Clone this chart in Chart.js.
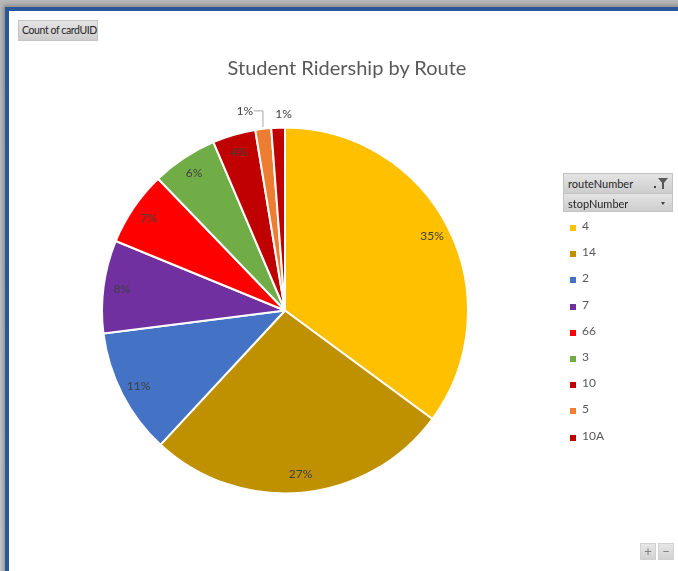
<!DOCTYPE html>
<html>
<head>
<meta charset="utf-8">
<script src="https://cdn.jsdelivr.net/npm/chart.js@4"></script>
<style>
  html, body { margin: 0; padding: 0; }
  body { width: 678px; height: 571px; position: relative; overflow: hidden;
         background: linear-gradient(to bottom, #b8b8b8, #c8c8c8); font-family: Lato, "Open Sans", sans-serif; }
  #frame { position: absolute; left: 5px; top: 7px; width: 690px; height: 580px;
           border-left: 4px solid #2b5797; border-top: 4px solid #2b5797; background: #fff;
           box-shadow: -2px -2px 4px rgba(0,0,0,0.25); }
  #myChart { position: absolute; left: 0; top: 0; }
  .btn { position: absolute; background: linear-gradient(#e4e4e4, #cdcdcd); border: 1px solid #c4c4c4;
         font-size: 11px; color: #262626; line-height: 19px; padding: 0 4px; box-sizing: border-box;
         white-space: nowrap; overflow: hidden; }
  #title { position: absolute; left: 0; width: 694px; top: 55px; text-align: center;
           font-size: 20px; color: #595959; }
  #legend { position: absolute; left: 566px; top: 218px; }
  .item { height: 26.2px; font-size: 12px; color: #595959; position: relative; }
  .item span.sw { position: absolute; left: 4px; top: 7px; width: 6px; height: 6px; }
  .item span.tx { position: absolute; left: 16px; top: 0; }
  .dd { position: absolute; right: 7px; top: 8px; width: 0; height: 0;
        border-left: 2px solid transparent; border-right: 2px solid transparent; border-top: 3px solid #404040; }
  .fil { position: absolute; right: 4px; top: 4px; width: 0; height: 0;
         border-left: 5px solid transparent; border-right: 5px solid transparent; border-top: 6px solid #595959; }
  .filstem { position: absolute; right: 8px; top: 9px; width: 2px; height: 6px; background: #595959; }
  .dot { position: absolute; right: 16px; top: 12px; width: 2px; height: 2px; background: #404040; }
  .pm { position: absolute; top: 543px; width: 16px; height: 17px; background: linear-gradient(#e6e6e6, #d2d2d2);
        border: 1px solid #d0d0d0; box-sizing: border-box; color: #7f7f7f; font-size: 13px; text-align: center; line-height: 14px; }
</style>
</head>
<body>
<div id="frame"></div>
<canvas id="myChart" width="678" height="571"></canvas>
<div class="btn" style="left:18px;top:20px;width:80px;height:21px;font-size:10.5px;letter-spacing:-0.4px;padding:0 3px;">Count of cardUID</div>
<div id="title">Student Ridership by Route</div>
<div class="btn" style="left:563px;top:173px;width:110px;height:21px;">routeNumber<span class="dot"></span><span class="fil"></span><span class="filstem"></span></div>
<div class="btn" style="left:563px;top:193px;width:110px;height:19px;">stopNumber<span class="dd"></span></div>
<div id="legend"></div>
<div class="pm" style="left:640px;">+</div>
<div class="pm" style="left:658px;">&minus;</div>
<script>
var rutas = ["4", "14", "2", "7", "66", "3", "10", "5", "10A"];
var conteos = [351, 268, 111, 82, 66, 58, 38, 14, 12];
var colores = ["#FFC000", "#BF9000", "#4472C4", "#7030A0", "#FF0000", "#70AD47", "#C00000", "#ED7D31", "#C00000"];

// legend as html
var leg = document.getElementById("legend");
for (var i = 0; i < rutas.length; i++) {
  var d = document.createElement("div");
  d.className = "item";
  d.innerHTML = '<span class="sw" style="background:' + colores[i] + '"></span><span class="tx">' + rutas[i] + "</span>";
  leg.appendChild(d);
}

var total = conteos.reduce(function (a, b) { return a + b; }, 0);

// porcentajes dentro de cada trozo
const etiquetas = {
  id: "etiquetas",
  afterDatasetsDraw(chart) {
    var c = chart.ctx;
    var meta = chart.getDatasetMeta(0);
    c.save();
    c.font = "12px Lato, 'Open Sans', sans-serif";
    c.fillStyle = "#404040";
    c.textAlign = "center";
    c.textBaseline = "middle";
    meta.data.forEach(function (arc, i) {
      var p = arc.getProps(["x", "y", "startAngle", "endAngle", "outerRadius"], true);
      var mid = (p.startAngle + p.endAngle) / 2;
      var txt = Math.round((conteos[i] / total) * 100) + "%";
      if (conteos[i] / total < 0.02) {
        // etiquetas fuera
        var r = p.outerRadius + 12;
        var lx = p.x + Math.cos(mid) * r;
        var ly = p.y + Math.sin(mid) * r;
        if (i == rutas.length - 2) {
          c.strokeStyle = "#a6a6a6";
          c.lineWidth = 1;
          c.beginPath();
          c.moveTo(p.x + Math.cos(mid) * (p.outerRadius + 2), p.y + Math.sin(mid) * (p.outerRadius + 2));
          c.lineTo(p.x + Math.cos(mid) * (p.outerRadius + 2), ly - 6);
          c.lineTo(lx - 8, ly - 6);
          c.stroke();
          c.fillText(txt, lx - 17, ly - 6);
        } else {
          c.fillText(txt, lx + 6, ly - 2);
        }
      } else {
        var r2 = p.outerRadius * 0.9;
        c.fillText(txt, p.x + Math.cos(mid) * r2, p.y + Math.sin(mid) * r2);
      }
    });
    c.restore();
  },
};

var ctx = document.getElementById("myChart");
var myChart = new Chart(ctx, {
  type: "pie",
  data: {
    labels: rutas,
    datasets: [
      {
        label: "Count of cardUID",
        data: conteos,
        backgroundColor: colores,
        borderColor: "#ffffff",
        borderWidth: 2,
      },
    ],
  },
  options: {
    responsive: false,
    animation: false,
    layout: {
      padding: { left: 101, right: 209, top: 126, bottom: 76 },
    },
    plugins: {
      legend: { display: false },
      title: { display: false },
      tooltip: { enabled: false },
    },
  },
  plugins: [etiquetas],
});
</script>
</body>
</html>
